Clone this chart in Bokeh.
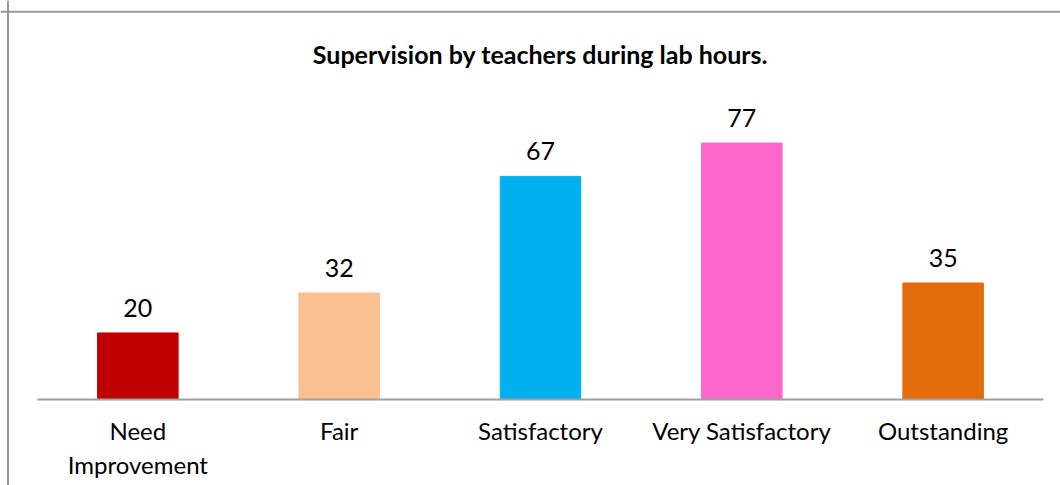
from bokeh.plotting import figure
from bokeh.models import Range1d, LinearAxis, FixedTicker, Span, Label, ColumnDataSource
from bokeh.core.properties import value
from bokeh.embed import file_html
from bokeh.resources import INLINE

categories = ["Need\nImprovement", "Fair", "Satisfactory", "Very Satisfactory", "Outstanding"]
counts = [20, 32, 67, 77, 35]
colors = ["#C00000", "#FAC090", "#00B0F0", "#FF66CC", "#E46C0A"]
title_text = "Supervision by teachers during lab hours."

FONT = "Lato"
centers = [i + 0.5 for i in range(len(categories))]

src = ColumnDataSource(dict(x=centers, top=counts, color=colors,
                            label=[str(c) for c in counts]))

p = figure(width=1060, height=485,
           x_range=Range1d(-0.1823, 5.083), y_range=Range1d(-25.8, 119.8),
           output_backend="svg", toolbar_location=None,
           x_axis_type=None, y_axis_type=None, min_border=0)
p.outline_line_color = None
p.background_fill_color = "white"
p.border_fill_color = "white"

p.vbar(x="x", top="top", bottom=0, width=0.4, color="color", source=src)
p.text(x="x", y="top", text="label", source=src, y_offset=-25,
       text_align="center", text_baseline="alphabetic",
       text_font=value(FONT), text_font_size="25px", text_color="black")

axis = LinearAxis(ticker=FixedTicker(ticks=centers), fixed_location=0, bounds=(0, 5))
axis.major_label_overrides = {c: lab for c, lab in zip(centers, categories)}
axis.axis_line_color = "#A0A0A0"
axis.axis_line_width = 2
axis.major_tick_line_color = None
axis.minor_tick_line_color = None
axis.major_label_text_font = FONT
axis.major_label_text_font_size = "24px"
axis.major_label_text_color = "black"
axis.major_label_standoff = 10
p.add_layout(axis, "below")

p.add_layout(Span(location=-0.145, dimension="height", line_color="#999999", line_width=2))
p.add_layout(Span(location=116.4, dimension="width", line_color="#999999", line_width=2))

p.add_layout(Label(x=2.5, y=103.8, text=title_text, text_align="center",
                   text_baseline="alphabetic", text_font=FONT,
                   text_font_size="25px", text_font_style="bold", text_color="black"))

open("out.html", "w").write(file_html(p, INLINE))
